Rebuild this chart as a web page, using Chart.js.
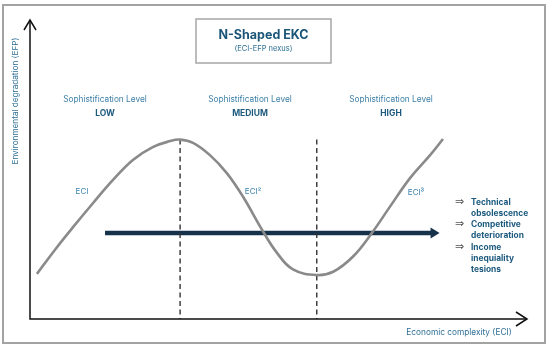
<!DOCTYPE html>
<html>
<head>
<meta charset="utf-8">
<script src="https://cdn.jsdelivr.net/npm/chart.js@4"></script>
<style>
  html, body { margin: 0; padding: 0; background: #fff; }
  canvas { display: block; }
</style>
</head>
<body>
<canvas id="ekcChart" width="550" height="348"></canvas>
<script>
// economic complexity (x) and environmental degradation (y)
const eciValues = [1.4, 5.0, 8.7, 12.7, 16.7, 20.7, 24.7, 28.2, 30.2, 32.8, 36.2, 39.6, 42.9, 46.7, 49.7, 52.9, 57.7, 61.0, 65.0, 68.8, 72.4, 76.5, 80.5, 83.1];
const efpValues = [15.1, 23.1, 30.8, 38.8, 46.5, 53.2, 57.5, 59.5, 60.0, 58.9, 54.8, 48.8, 40.8, 29.8, 22.1, 16.6, 14.7, 15.8, 20.9, 28.8, 37.5, 47.2, 54.8, 60.2];

// turning points (dashed lines) and their top
const turningPoints = [30.2, 57.7];
const turningTop = 60;

// horizontal arrow
const arrowFrom = 15.1;
const arrowTo = 81.0;
const arrowLevel = 28.8;

const levelNames = ["LOW", "MEDIUM", "HIGH"];
const termLabels = ["ECI", "ECI²", "ECI³"];
const effects = [["Technical", "obsolescence"], ["Competitive", "deterioration"], ["Income", "inequiality", "tesions"]];

const FONT = "Inter, 'Open Sans', sans-serif";

function pts(xs, ys) {
    return xs.map((x, i) => ({ x: x, y: ys[i] }));
}

let datasets = [];
datasets.push({
    data: pts(eciValues, efpValues),
    borderColor: "#8a8a8a",
    borderWidth: 2.6,
    tension: 0.4,
    pointRadius: 0,
    fill: false
});
turningPoints.forEach(tp => {
    datasets.push({
        data: [{ x: tp, y: turningTop }, { x: tp, y: 0 }],
        borderColor: "#333",
        borderWidth: 1.4,
        borderDash: [5, 3.5],
        pointRadius: 0,
        fill: false
    });
});
datasets.push({
    data: [{ x: arrowFrom, y: arrowLevel }, { x: arrowTo, y: arrowLevel }],
    borderColor: "#16324a",
    borderWidth: 4.5,
    borderCapStyle: "butt",
    pointRadius: 0,
    fill: false
});
datasets.push({
    data: [{ x: arrowFrom, y: arrowLevel }, { x: arrowTo, y: arrowLevel }],
    borderColor: "#2f6f98",
    borderWidth: 1.2,
    borderCapStyle: "butt",
    pointRadius: 0,
    fill: false
});

const decorations = {
    id: "decorations",
    beforeDraw(chart) {
        let ctx = chart.ctx;
        ctx.save();
        ctx.fillStyle = "#fff";
        ctx.fillRect(0, 0, chart.width, chart.height);
        ctx.strokeStyle = "#a3a3a3";
        ctx.lineWidth = 2;
        ctx.strokeRect(3, 5, 542, 338);
        ctx.restore();
    },
    afterDraw(chart) {
        let ctx = chart.ctx;
        let xs = chart.scales.x, ys = chart.scales.y;
        let x0 = xs.getPixelForValue(0), y0 = ys.getPixelForValue(0);
        let xEnd = chart.chartArea.right, yTop = chart.chartArea.top;
        ctx.save();

        // axes with open arrowheads
        ctx.strokeStyle = "#111";
        ctx.lineWidth = 1.5;
        ctx.beginPath();
        ctx.moveTo(x0, yTop);
        ctx.lineTo(x0, y0);
        ctx.lineTo(xEnd, y0);
        ctx.stroke();
        ctx.beginPath();
        ctx.moveTo(x0 - 6, yTop + 10);
        ctx.lineTo(x0, yTop);
        ctx.lineTo(x0 + 6, yTop + 10);
        ctx.moveTo(xEnd - 11, y0 - 7);
        ctx.lineTo(xEnd, y0);
        ctx.lineTo(xEnd - 11, y0 + 7);
        ctx.stroke();

        // head of the horizontal arrow
        let ax = xs.getPixelForValue(arrowTo), ay = ys.getPixelForValue(arrowLevel);
        ctx.fillStyle = "#16324a";
        ctx.beginPath();
        ctx.moveTo(ax - 2, ay - 5.5);
        ctx.lineTo(ax + 7, ay);
        ctx.lineTo(ax - 2, ay + 5.5);
        ctx.closePath();
        ctx.fill();

        // title box
        ctx.strokeStyle = "#a6a6a6";
        ctx.lineWidth = 1.5;
        ctx.strokeRect(196, 19, 135, 44);
        ctx.textAlign = "center";
        ctx.textBaseline = "middle";
        ctx.fillStyle = "#1b5578";
        ctx.font = "bold 12.5px " + FONT;
        ctx.fillText("N-Shaped EKC", 263.5, 35);
        ctx.fillStyle = "#2d6f94";
        ctx.font = "7.5px " + FONT;
        ctx.fillText("(ECI-EFP nexus)", 263.5, 49);

        // sophistication levels
        let levelX = [105, 250, 391];
        levelNames.forEach((name, i) => {
            ctx.fillStyle = "#3c7fa6";
            ctx.font = "8.3px " + FONT;
            ctx.fillText("Sophistification Level", levelX[i], 100);
            ctx.fillStyle = "#1d5a7e";
            ctx.font = "bold 8.5px " + FONT;
            ctx.fillText(name, levelX[i], 113);
        });

        // term labels
        let termPos = [[82, 192], [253, 192], [416, 193]];
        ctx.fillStyle = "#3a82ad";
        ctx.font = "8px " + FONT;
        termLabels.forEach((t, i) => ctx.fillText(t, termPos[i][0], termPos[i][1]));

        // effects list
        ctx.textAlign = "left";
        let lineY = 202;
        effects.forEach(item => {
            ctx.fillStyle = "#555";
            ctx.font = "11px 'DejaVu Sans', sans-serif";
            ctx.fillText("⇒", 455, lineY);
            ctx.fillStyle = "#1c5a7e";
            ctx.font = "bold 8.4px " + FONT;
            item.forEach(line => {
                ctx.fillText(line, 471, lineY);
                lineY += 11.3;
            });
        });

        // axis titles
        ctx.fillStyle = "#2e6f96";
        ctx.font = "8.3px " + FONT;
        ctx.textAlign = "center";
        ctx.fillText("Economic complexity (ECI)", 459, 333);
        ctx.translate(16, 101);
        ctx.rotate(-Math.PI / 2);
        ctx.font = "8.2px " + FONT;
        ctx.fillText("Environmental degradation (EFP)", 0, 0);
        ctx.restore();
    }
};

let ekcChart = new Chart(document.getElementById("ekcChart"), {
    type: "line",
    data: { datasets: datasets },
    options: {
        responsive: false,
        animation: false,
        layout: { padding: { left: 30, right: 23, top: 20, bottom: 29 } },
        plugins: { legend: { display: false }, tooltip: { enabled: false } },
        scales: {
            x: { type: "linear", min: 0, max: 100, display: false },
            y: { type: "linear", min: 0, max: 100, display: false }
        }
    },
    plugins: [decorations]
});
</script>
</body>
</html>
